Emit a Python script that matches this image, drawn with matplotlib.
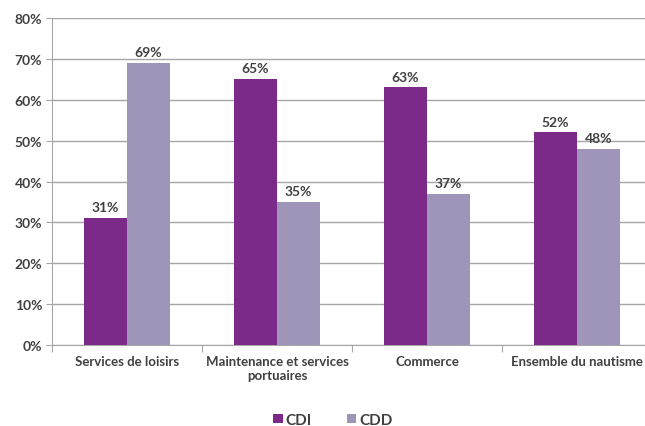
import numpy as np
import matplotlib.pyplot as plt

plt.rcParams['font.family'] = ['Lato', 'DejaVu Sans']

categories = ['Services de loisirs', 'Maintenance et services\nportuaires', 'Commerce', 'Ensemble du nautisme']
cdi = [31, 65, 63, 52]
cdd = [69, 35, 37, 48]

c_cdi = '#7B2A8A'
c_cdd = '#9F95B8'
txt = '#404040'
grid = '#A6A6A6'

fig = plt.figure(figsize=(6.45, 4.27), dpi=100)
ax = fig.add_axes([52/645, 81/427, 600/645, 327/427])

x = np.arange(len(categories))
w = 0.285
b1 = ax.bar(x - w/2, cdi, w, color=c_cdi, label='CDI', zorder=3)
b2 = ax.bar(x + w/2, cdd, w, color=c_cdd, label='CDD', zorder=3)

for bars, vals in [(b1, cdi), (b2, cdd)]:
    for r, v in zip(bars, vals):
        ax.text(r.get_x() + r.get_width()/2, v + 1.2, '%d%%' % v,
                ha='center', va='bottom', fontsize=10, fontweight='bold', color=txt)

ax.set_xlim(-0.5, 3.5)
ax.set_ylim(0, 80)
ax.set_yticks(range(0, 81, 10))
ax.set_yticklabels(['%d%%' % t for t in range(0, 81, 10)], fontsize=10, fontweight='bold', color=txt)
ax.set_xticks([-0.5, 0.5, 1.5, 2.5, 3.5], minor=False)
ax.set_xticklabels([])
ax.set_xticks(x, minor=True)
ax.set_xticklabels(categories, minor=True, fontsize=9.5, fontweight='bold', color=txt)
ax.tick_params(axis='x', which='minor', length=0, pad=7)
ax.tick_params(axis='x', which='major', length=5, color=grid, direction='out')
ax.tick_params(axis='y', length=4, color=grid, pad=3)
ax.yaxis.grid(True, color=grid, linewidth=1, zorder=0)
for s in ['top', 'right']:
    ax.spines[s].set_visible(False)
for s in ['left', 'bottom']:
    ax.spines[s].set_color(grid)

leg = fig.legend(handles=[b1, b2], labels=['CDI', 'CDD'], loc='center', bbox_to_anchor=(333/645, 1 - 421/427),
                 ncol=2, frameon=False, handlelength=0.6, handleheight=0.6, handletextpad=0.2,
                 columnspacing=2.3, prop={'size': 11, 'weight': 'bold'})
for t in leg.get_texts():
    t.set_color(txt)

fig.savefig('out.png', dpi=100)
